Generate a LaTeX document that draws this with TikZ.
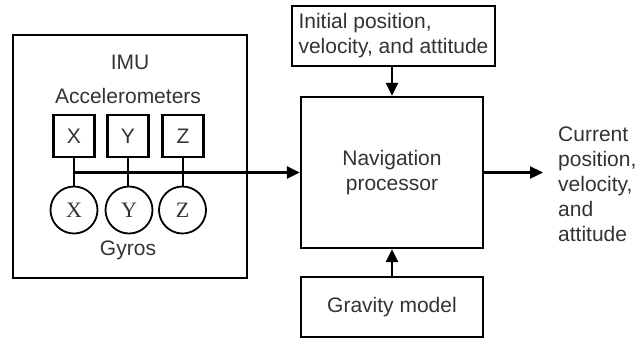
\documentclass[tikz,border=0pt]{standalone}
\usepackage{fontspec}
\setmainfont{Liberation Sans}
\newfontfamily\serifletters{Liberation Serif}
\usetikzlibrary{arrows.meta}
\begin{document}
\begin{tikzpicture}[x=1pt,y=-1pt,
  every node/.style={font=\fontsize{21}{25}\selectfont, text=black!80, inner sep=0pt},
  blk/.style={draw=black, line width=2.3pt, rectangle},
  gyro/.style={draw=black, line width=1.8pt, circle, minimum size=47pt, font=\serifletters\fontsize{22}{25}\selectfont},
  acc/.style={draw=black, line width=2.3pt, rectangle, minimum width=41pt, minimum height=42pt},
  wire/.style={line width=2.3pt, black},
  arr/.style={line width=2.3pt, black, -{Triangle[length=13pt,width=12pt]}}]
\useasboundingbox (0,0) rectangle (639,341);
% IMU
\node[blk, minimum width=234pt, minimum height=243pt] (imu) at (130,156.5) {};
\node (imulabel) at (130,62) {IMU};
\node (acclabel) at (128,96) {Accelerometers};
\node[acc] (ax) at (74,136) {X};
\node[acc] (ay) at (128,136) {Y};
\node[acc] (az) at (183,136) {Z};
\node[gyro] (gx) at (74,210) {X};
\node[gyro] (gy) at (129,210) {Y};
\node[gyro] (gz) at (182.5,210) {Z};
\node (gyrolabel) at (128,250) {Gyros};
% other blocks
\node[blk, minimum width=182pt, minimum height=151pt, align=center] (nav) at (392,172.5) {Navigation\\processor};
\node[blk, minimum width=203pt, minimum height=60pt, align=left] (init) at (393.5,36) {Initial position,\\velocity, and attitude};
\node[blk, minimum width=182pt, minimum height=60pt] (grav) at (392,307) {Gravity model};
\node[anchor=west, align=left] (out) at (558,184) {Current\\position,\\velocity,\\and\\attitude};
\coordinate (outtip) at (543,172.5);
\coordinate (busleft) at (ax.south |- 0,172.5);
% connectors
\draw[wire] (ax.south) -- (gx.north);
\draw[wire] (ay.south) -- (ay.south |- gy.north);
\draw[wire] (az.south) -- (az.south |- gz.north);
\draw[arr] (busleft) -- (nav.west);
\draw[arr] (init.south -| nav.north) -- (nav.north);
\draw[arr] (grav.north) -- (nav.south);
\draw[arr] (nav.east) -- (outtip);
\end{tikzpicture}
\end{document}
